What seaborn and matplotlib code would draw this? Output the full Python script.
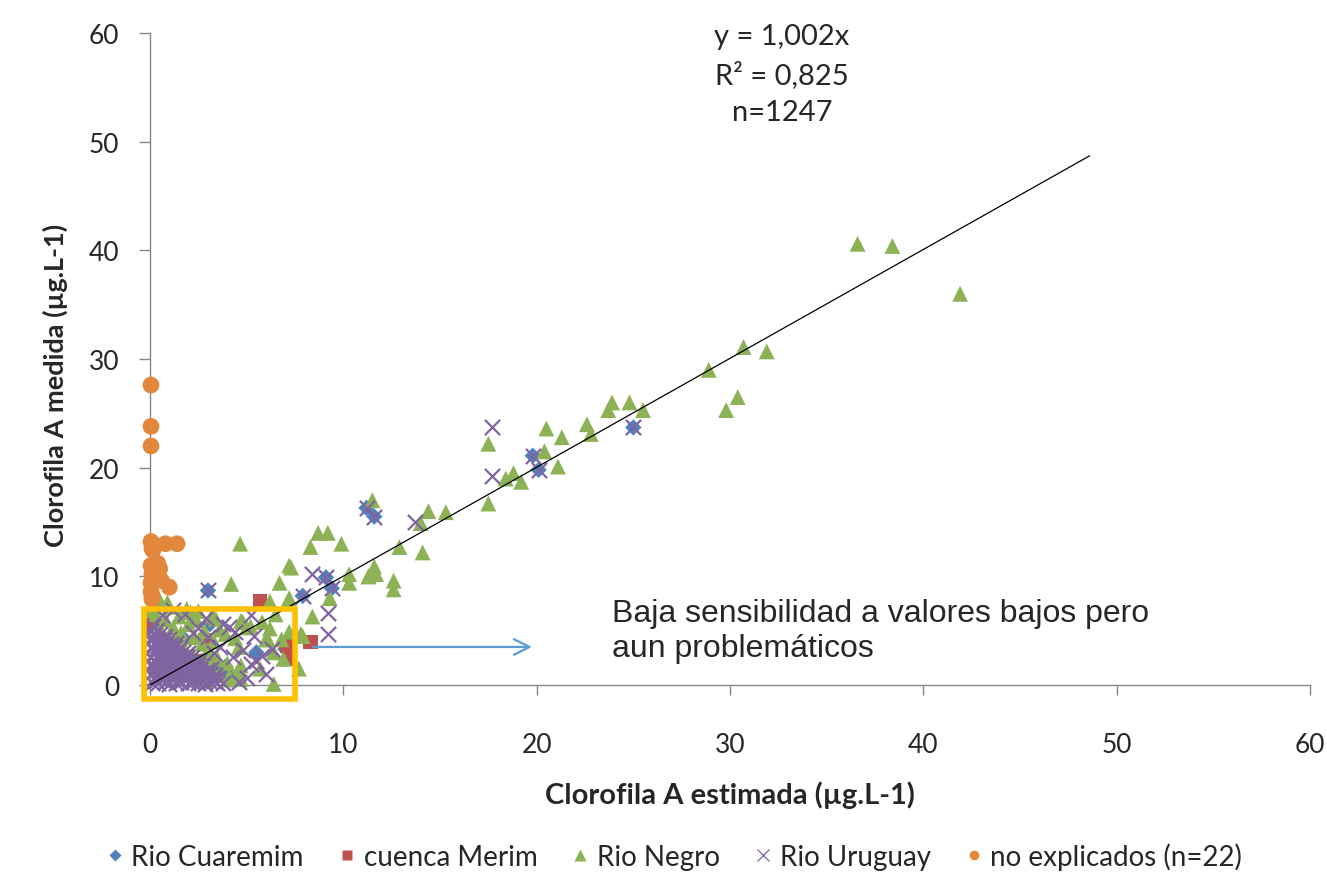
import matplotlib
matplotlib.use("Agg")
import matplotlib.pyplot as plt
from matplotlib.lines import Line2D
from matplotlib.patches import Rectangle
import numpy as np
import pandas as pd
import seaborn as sns

# ---- series values (chlorophyll-a: estimated x, measured y, in µg/L) ----
cuaremim_x = [25.0, 19.8, 20.1, 11.2, 11.6, 9.1, 9.4, 7.9, 3.0, 3.1, 5.5, 7.0, 3.9, 4.0,
              1.0, 1.5, 0.5, 2.0, 0.8, 3.6, 1.3, 2.4, 0.3, 2.7, 1.8]
cuaremim_y = [23.7, 21.1, 19.8, 16.3, 15.5, 9.9, 8.9, 8.2, 8.7, 5.6, 3.0, 3.3, 1.7, 1.0,
              2.5, 1.8, 3.2, 1.2, 0.9, 1.5, 3.0, 2.0, 1.5, 0.7, 4.2]

merim_x = [5.7, 2.85, 8.3, 7.1, 7.2, 2.4, 0.05, 1.6]
merim_y = [7.7, 4.1, 3.95, 3.6, 2.4, 2.2, 5.5, 1.2]

negro_x = [36.6, 38.4, 41.9, 30.7, 31.9, 28.9, 30.4, 29.8, 23.9, 23.7, 24.8, 25.5,
           22.6, 22.8, 20.5, 21.3, 20.4, 17.5, 21.1, 18.4, 18.8, 19.2, 17.5,
           14.4, 15.3, 14.0, 14.1, 12.9, 11.5, 11.3, 11.6, 11.3, 11.7, 10.3, 10.3,
           12.6, 12.6, 8.7, 9.2, 8.3, 9.9, 7.2, 7.3, 6.7, 9.3, 7.2, 6.2, 8.4, 7.9,
           6.0, 4.66, 4.2, 0.9, 7.1, 2.1, 3.2, 4.7, 5.0, 5.8, 6.2, 6.8, 6.4, 4.6,
           3.3, 7.7, 6.9, 6.4, 4.7, 4.1, 3.3, 4.8, 5.2, 6.5, 6.1, 7.2, 7.8, 5.7,
           4.6, 4.7, 4.1,
           0.3, 0.8, 0.4, 1.2, 1.6, 2.0, 2.3, 2.7, 3.0, 1.7, 2.2, 2.6, 3.2, 3.6,
           2.9, 3.5, 1.0, 0.2, 0.5, 1.5, 2.5, 2.4, 3.4, 3.9, 4.4, 3.6, 2.8, 1.3,
           0.6, 4.0, 4.5, 3.1, 0.1, 1.9, 2.9]
negro_y = [40.6, 40.4, 36.0, 31.1, 30.7, 29.0, 26.5, 25.3, 26.0, 25.3, 26.0, 25.3,
           24.0, 23.1, 23.6, 22.8, 21.5, 22.2, 20.1, 19.0, 19.5, 18.7, 16.7,
           16.0, 15.9, 14.9, 12.2, 12.7, 17.0, 10.0, 10.9, 10.0, 10.2, 10.2, 9.4,
           9.6, 8.8, 14.0, 14.0, 12.7, 13.0, 11.0, 10.8, 9.4, 8.0, 8.0, 7.7, 6.3, 4.5,
           4.2, 13.0, 9.3, 7.6, 7.6, 6.7, 6.4, 5.9, 5.3, 5.8, 5.2, 4.2, 3.0, 3.5,
           4.0, 1.5, 2.4, 0.1, 1.8, 0.8, 1.2, 5.8, 5.4, 6.5, 4.2, 4.9, 4.7, 1.5,
           1.5, 0.55, 0.5,
           6.5, 6.0, 5.6, 5.3, 4.8, 5.6, 4.4, 3.8, 3.2, 3.6, 2.8, 2.2, 1.6, 0.9,
           0.4, 2.4, 7.2, 7.4, 7.8, 6.3, 6.8, 6.0, 6.1, 4.7, 4.3, 5.1, 5.0, 4.1,
           4.4, 2.0, 1.1, 2.6, 6.9, 7.0, 1.4]

uruguay_x = [17.7, 17.7, 13.7, 8.4, 9.2, 9.2, 25.0, 19.8, 20.1, 11.2, 11.6, 9.1, 9.4,
             7.9, 3.0, 5.2, 4.1, 5.8, 2.5, 3.0, 3.6, 4.3, 4.8, 5.2, 5.5, 3.8, 2.9,
             1.8, 4.4, 6.0, 5.0, 1.2, 0.6, 6.3, 5.4, 4.6, 3.3, 2.2,
             0.1, 0.4, 0.8, 1.0, 1.35, 1.6, 1.95, 2.2, 2.5, 2.85, 3.1, 3.45, 3.75,
             0.2, 0.55, 0.8, 1.15, 1.4, 1.75, 2.0, 2.35, 2.6, 2.9, 3.25, 3.5,
             0.05, 0.45, 0.7, 1.0, 1.3, 1.65, 1.9, 2.2, 2.55, 2.8, 3.1, 3.35,
             0.25, 0.5, 0.85, 1.1, 1.45, 1.7, 2.05, 2.3, 2.6, 2.95, 3.15,
             0.1, 0.4, 0.75, 1.0, 1.3, 1.6, 1.95, 2.25, 2.5, 2.75,
             0.2, 0.5, 0.8, 1.15, 1.4, 1.7, 2.0, 2.3, 2.55,
             0.05, 0.4, 0.7, 1.05, 1.3, 1.65, 1.9, 2.15,
             0.25, 0.55, 0.8, 1.1, 1.45, 1.7, 1.95,
             0.1, 0.45, 0.7, 1.0, 1.3, 1.55,
             0.2, 0.5, 0.85, 1.1, 1.35,
             0.1, 0.4, 0.7, 1.0,
             0.2, 0.5, 0.8,
             0.05, 0.35, 0.15,
             0.3, 0.9, 1.5, 2.1, 2.7, 3.3, 0.6, 1.2, 1.8, 2.4, 3.0, 0.35, 0.95,
             1.55, 2.15, 0.65, 1.25, 1.85, 0.4, 1.0, 0.7]
uruguay_y = [23.7, 19.2, 15.0, 10.2, 6.6, 4.7, 23.7, 21.1, 19.8, 16.3, 15.5, 9.9, 8.9,
             8.2, 8.7, 6.4, 5.3, 2.7, 5.2, 4.4, 3.5, 2.6, 3.2, 1.9, 2.2, 5.6, 6.2,
             6.5, 4.9, 1.0, 0.6, 6.9, 6.4, 3.3, 4.5, 0.3, 2.9, 4.8,
             0.2, 0.15, 0.25, 0.1, 0.2, 0.3, 0.15, 0.25, 0.2, 0.1, 0.3, 0.2, 0.15,
             0.6, 0.55, 0.65, 0.6, 0.5, 0.6, 0.7, 0.55, 0.6, 0.65, 0.55, 0.6,
             1.0, 1.05, 0.95, 1.0, 1.1, 0.95, 1.0, 1.05, 0.9, 1.0, 1.05, 0.95,
             1.4, 1.45, 1.35, 1.4, 1.5, 1.35, 1.4, 1.45, 1.4, 1.35, 1.45,
             1.8, 1.85, 1.75, 1.8, 1.9, 1.8, 1.75, 1.85, 1.8, 1.8,
             2.2, 2.25, 2.15, 2.2, 2.3, 2.2, 2.15, 2.25, 2.2,
             2.6, 2.65, 2.55, 2.6, 2.7, 2.6, 2.55, 2.6,
             3.0, 3.05, 2.95, 3.0, 3.1, 3.0, 2.95,
             3.4, 3.45, 3.35, 3.4, 3.5, 3.4,
             3.8, 3.85, 3.75, 3.8, 3.9,
             4.2, 4.25, 4.15, 4.2,
             4.6, 4.65, 4.55,
             5.0, 5.05, 5.4,
             0.4, 0.4, 0.4, 0.4, 0.4, 0.4, 1.2, 1.2, 1.2, 1.2, 1.2, 2.0, 2.0,
             2.0, 2.0, 2.8, 2.8, 2.8, 3.6, 3.6, 4.4]

otros_x = [0.05, 0.05, 0.05, 0.05, 0.1, 0.15, 0.8, 1.4, 0.05, 0.3, 0.5, 0.1,
           0.3, 0.6, 1.0, 0.05, 0.1, 0.2, 0.05, 0.4, 0.2, 0.1]
otros_y = [27.6, 23.8, 22.0, 13.2, 12.6, 12.4, 13.0, 13.0, 11.0, 10.9, 10.7, 10.2,
           10.5, 9.6, 9.0, 8.6, 8.2, 9.8, 9.4, 11.2, 12.9, 7.9]

series_names = ["Rio Cuaremim", "cuenca Merim", "Rio Negro", "Rio Uruguay",
                "no explicados (n=22)"]
tick_values = [0, 10, 20, 30, 40, 50, 60]
slope = 1.002
fit_end = 48.6
equation_lines = ["y = 1,002x", "R² = 0,825", "n=1247"]
note_text = "Baja sensibilidad a valores bajos pero\naun problemáticos"

# ---- styling ----
sns.set_theme(style="white")
plt.rcParams["font.family"] = ["Lato", "DejaVu Sans"]

colors = {"Rio Cuaremim": "#4F81BD", "cuenca Merim": "#C0504D",
          "Rio Negro": "#8DB255", "Rio Uruguay": "#8064A2",
          "no explicados (n=22)": "#E2873C"}
markers = {"Rio Cuaremim": "D", "cuenca Merim": "s", "Rio Negro": "^",
           "Rio Uruguay": "x", "no explicados (n=22)": "o"}
sizes = {"Rio Cuaremim": 70, "cuenca Merim": 110, "Rio Negro": 130,
         "Rio Uruguay": 120, "no explicados (n=22)": 145}

data = {
    "Rio Cuaremim": (cuaremim_x, cuaremim_y),
    "cuenca Merim": (merim_x, merim_y),
    "Rio Negro": (negro_x, negro_y),
    "Rio Uruguay": (uruguay_x, uruguay_y),
    "no explicados (n=22)": (otros_x, otros_y),
}

W, H = 1327, 887
fig = plt.figure(figsize=(W / 100, H / 100), dpi=100)
ax = fig.add_axes([150 / W, 1 - 686 / H, 1160 / W, 652 / H])

for name in series_names:
    xs, ys = data[name]
    df = pd.DataFrame({"x": xs, "y": ys})
    if name == "Rio Uruguay":
        sns.scatterplot(data=df, x="x", y="y", ax=ax, marker="x", s=sizes[name],
                        color=colors[name], linewidth=1.6, clip_on=False, zorder=3)
    else:
        sns.scatterplot(data=df, x="x", y="y", ax=ax, marker=markers[name],
                        s=sizes[name], color=colors[name], edgecolor="none",
                        linewidth=0, clip_on=False, zorder=3)

# linear trend through the origin
fx = np.array([0.0, fit_end])
ax.plot(fx, slope * fx, color="black", lw=0.9, zorder=4)

ax.set_xlim(0, 60)
ax.set_ylim(0, 60)
ax.set_xticks(tick_values)
ax.set_yticks(tick_values)
ax.set_xlabel("")
ax.set_ylabel("")
fig.text(730 / W, 1 - 795 / H, "Clorofila A estimada (µg.L-1)", fontsize=21,
         fontweight="bold", ha="center", va="center")
fig.text(55 / W, 1 - 385 / H, "Clorofila A medida (µg.L-1)", fontsize=19.5,
         fontweight="bold", ha="center", va="center", rotation=90)

for side in ["top", "right"]:
    ax.spines[side].set_visible(False)
for side in ["left", "bottom"]:
    ax.spines[side].set_color("#868686")
    ax.spines[side].set_linewidth(1.0)
ax.tick_params(axis="x", direction="out", length=7, width=1, color="#868686",
               labelsize=19, pad=27)
ax.tick_params(axis="y", direction="out", length=8, width=1, color="#868686",
               labelsize=19, pad=14)
ax.tick_params(bottom=True, left=True)
ax.grid(False)

# equation block
fig.text(782 / W, 1 - 75 / H, "\n".join(equation_lines), ha="center", va="center",
         fontsize=21, linespacing=1.5)

# highlight box around the low-value cluster
ax.add_patch(Rectangle((-0.3, -1.3), 7.8, 8.3, fill=False, edgecolor="#FFC000",
                       lw=4, clip_on=False, zorder=5))
ax.annotate("", xy=(19.9, 3.5), xytext=(8.3, 3.5),
            arrowprops=dict(arrowstyle="->", color="#5B9BD5", lw=1.6,
                            mutation_scale=28), zorder=5)
ax.text(23.9, 8.0, note_text, ha="left", va="top", fontsize=23,
        family="Liberation Sans", linespacing=1.2)

# legend below the axes
handles = []
for name in series_names:
    if name == "Rio Uruguay":
        h = Line2D([], [], linestyle="none", marker="x", markersize=9,
                   markeredgecolor=colors[name], markeredgewidth=0.9)
    else:
        ms = {"D": 6, "s": 7, "^": 8, "o": 7}[markers[name]]
        h = Line2D([], [], linestyle="none", marker=markers[name], markersize=ms,
                   markerfacecolor=colors[name], markeredgecolor="none")
    handles.append(h)
fig.legend(handles, series_names, loc="center", bbox_to_anchor=(673 / W, 1 - 857 / H),
           ncol=5, frameon=False, fontsize=20, handletextpad=0.2,
           columnspacing=1.15, handlelength=0.8)

fig.savefig("out.png", dpi=100)
